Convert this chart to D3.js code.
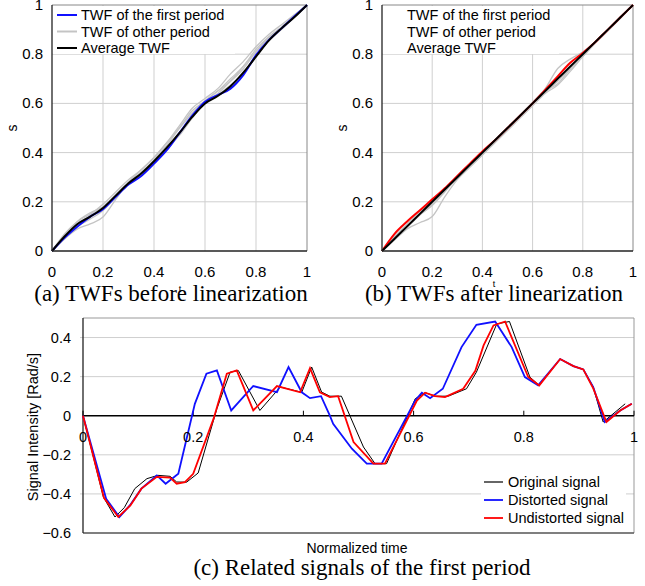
<!DOCTYPE html>
<html>
<head>
<meta charset="utf-8">
<script src="https://cdn.jsdelivr.net/npm/d3@7"></script>
<style>
  body { margin: 0; background: #fff; }
  svg { display: block; }
</style>
</head>
<body>
<svg id="chart" width="645" height="586"></svg>
<script>
// ---- data ----
const twfT = [0, 0.05, 0.1, 0.15, 0.2, 0.25, 0.3, 0.35, 0.4, 0.45, 0.5, 0.55, 0.6, 0.65, 0.7, 0.75, 0.8, 0.85, 0.9, 0.95, 1];

// (a) before linearization
const aFirst = [0, 0.055, 0.1, 0.14, 0.17, 0.22, 0.27, 0.305, 0.355, 0.41, 0.48, 0.55, 0.607, 0.634, 0.66, 0.715, 0.796, 0.857, 0.905, 0.953, 1];
const aAverage = [0, 0.06, 0.11, 0.14, 0.175, 0.225, 0.275, 0.315, 0.365, 0.42, 0.48, 0.545, 0.6, 0.63, 0.67, 0.725, 0.79, 0.855, 0.905, 0.95, 1];
const aOthers = [
  [0, 0.05, 0.09, 0.11, 0.138, 0.21, 0.28, 0.33, 0.38, 0.44, 0.5, 0.56, 0.61, 0.65, 0.69, 0.74, 0.81, 0.87, 0.91, 0.955, 1],
  [0, 0.07, 0.12, 0.15, 0.19, 0.24, 0.29, 0.33, 0.38, 0.44, 0.51, 0.58, 0.62, 0.66, 0.72, 0.77, 0.83, 0.88, 0.92, 0.96, 1],
  [0, 0.06, 0.12, 0.155, 0.18, 0.23, 0.28, 0.32, 0.37, 0.43, 0.5, 0.57, 0.61, 0.65, 0.7, 0.75, 0.82, 0.87, 0.91, 0.955, 1],
  [0, 0.05, 0.1, 0.13, 0.165, 0.22, 0.275, 0.32, 0.36, 0.42, 0.47, 0.54, 0.6, 0.64, 0.69, 0.75, 0.81, 0.865, 0.91, 0.955, 1],
  [0, 0.06, 0.11, 0.145, 0.18, 0.225, 0.27, 0.31, 0.355, 0.41, 0.475, 0.55, 0.605, 0.635, 0.675, 0.72, 0.79, 0.855, 0.9, 0.95, 1]
];

// (b) after linearization
const bFirst = [0, 0.07, 0.12, 0.165, 0.21, 0.255, 0.305, 0.355, 0.405, 0.45, 0.5, 0.55, 0.6, 0.655, 0.71, 0.765, 0.805, 0.85, 0.9, 0.95, 1];
const bAverage = [0, 0.05, 0.1, 0.15, 0.2, 0.25, 0.3, 0.35, 0.4, 0.45, 0.5, 0.55, 0.6, 0.65, 0.7, 0.75, 0.8, 0.85, 0.9, 0.95, 1];
const bOthers = [
  [0, 0.045, 0.09, 0.115, 0.14, 0.22, 0.29, 0.34, 0.39, 0.445, 0.5, 0.55, 0.6, 0.65, 0.68, 0.74, 0.795, 0.85, 0.9, 0.95, 1],
  [0, 0.06, 0.11, 0.16, 0.2, 0.245, 0.295, 0.345, 0.39, 0.44, 0.49, 0.54, 0.59, 0.64, 0.675, 0.73, 0.79, 0.845, 0.895, 0.945, 1],
  [0, 0.055, 0.1, 0.15, 0.19, 0.245, 0.3, 0.35, 0.395, 0.445, 0.5, 0.55, 0.605, 0.66, 0.742, 0.78, 0.81, 0.85, 0.9, 0.95, 1],
  [0, 0.05, 0.095, 0.145, 0.185, 0.24, 0.3, 0.35, 0.4, 0.45, 0.5, 0.545, 0.6, 0.645, 0.69, 0.74, 0.79, 0.845, 0.895, 0.95, 1]
];

const twfTicks = [0, 0.2, 0.4, 0.6, 0.8, 1];
const twfLegend = ["TWF of the first period", "TWF of other period", "Average TWF"];

// (c) signals of the first period
const origT = [0, 0.037, 0.058, 0.075, 0.094, 0.116, 0.136, 0.158, 0.17, 0.188, 0.209, 0.243, 0.267, 0.282, 0.321, 0.358, 0.397, 0.415, 0.433, 0.448, 0.469, 0.509, 0.53, 0.551, 0.603, 0.621, 0.639, 0.663, 0.696, 0.714, 0.751, 0.774, 0.811, 0.828, 0.866, 0.89, 0.908, 0.926, 0.944, 0.958, 0.984];
const origV = [0, -0.416, -0.518, -0.47, -0.373, -0.322, -0.305, -0.31, -0.339, -0.34, -0.293, 0.036, 0.223, 0.231, 0.027, 0.147, 0.12, 0.249, 0.121, 0.1, 0.1, -0.16, -0.245, -0.245, 0.087, 0.118, 0.1, 0.1, 0.138, 0.223, 0.47, 0.482, 0.198, 0.155, 0.29, 0.254, 0.237, 0.147, -0.032, 0.0, 0.061];

const distT = [0, 0.042, 0.066, 0.085, 0.106, 0.134, 0.15, 0.173, 0.203, 0.224, 0.243, 0.269, 0.309, 0.352, 0.373, 0.397, 0.412, 0.432, 0.448, 0.454, 0.488, 0.515, 0.542, 0.603, 0.615, 0.63, 0.653, 0.687, 0.714, 0.748, 0.778, 0.802, 0.826, 0.866, 0.89, 0.908, 0.926, 0.947, 0.975, 0.996];
const distV = [0, -0.425, -0.518, -0.459, -0.373, -0.305, -0.348, -0.297, 0.061, 0.215, 0.232, 0.027, 0.152, 0.121, 0.249, 0.12, 0.09, 0.1, 0.0, -0.041, -0.169, -0.245, -0.245, 0.078, 0.118, 0.09, 0.138, 0.351, 0.465, 0.482, 0.351, 0.198, 0.155, 0.29, 0.254, 0.237, 0.147, -0.032, 0.027, 0.061];

const undT = [0, 0.038, 0.064, 0.086, 0.106, 0.134, 0.158, 0.17, 0.185, 0.2, 0.237, 0.261, 0.279, 0.309, 0.352, 0.394, 0.412, 0.43, 0.448, 0.463, 0.491, 0.527, 0.548, 0.606, 0.621, 0.639, 0.657, 0.69, 0.712, 0.727, 0.745, 0.766, 0.808, 0.828, 0.866, 0.89, 0.908, 0.926, 0.95, 0.975, 0.996];
const undV = [0, -0.42, -0.518, -0.459, -0.373, -0.313, -0.317, -0.348, -0.34, -0.297, -0.015, 0.215, 0.232, 0.027, 0.152, 0.12, 0.244, 0.12, 0.095, 0.1, -0.135, -0.245, -0.245, 0.078, 0.118, 0.1, 0.095, 0.138, 0.23, 0.36, 0.462, 0.482, 0.198, 0.155, 0.29, 0.254, 0.237, 0.14, -0.032, 0.027, 0.061];

const sigXTicks = [0, 0.2, 0.4, 0.6, 0.8, 1];
const sigYTicks = [-0.6, -0.4, -0.2, 0, 0.2, 0.4];
const sigLegend = ["Original signal", "Distorted signal", "Undistorted signal"];

const sans = "'Liberation Sans', Arial, sans-serif";
const serif = "'Liberation Serif', 'Times New Roman', serif";
const svg = d3.select("#chart");

// ---- TWF panel ----
function twfPanel(opt) {
  const x = d3.scaleLinear().domain([0, 1]).range([opt.x0, opt.x1]);
  const y = d3.scaleLinear().domain([0, 1]).range([251, 5]);
  const g = svg.append("g");

  // grid
  g.append("g").selectAll("line").data(twfTicks.slice(1, -1)).join("line")
    .attr("x1", d => x(d)).attr("x2", d => x(d)).attr("y1", y(0)).attr("y2", y(1))
    .attr("stroke", "#cfcfcf").attr("stroke-width", 1);
  g.append("g").selectAll("line").data(twfTicks.slice(1, -1)).join("line")
    .attr("y1", d => y(d)).attr("y2", d => y(d)).attr("x1", x(0)).attr("x2", x(1))
    .attr("stroke", "#cfcfcf").attr("stroke-width", 1);

  // legend background hides grid
  g.append("rect").attr("x", x(0) + 1).attr("y", y(1) + 1)
    .attr("width", opt.legendW).attr("height", 48).attr("fill", "#fff");

  // frame
  g.append("line").attr("x1", x(0)).attr("x2", x(1)).attr("y1", y(1)).attr("y2", y(1)).attr("stroke", "#888");
  g.append("line").attr("x1", x(1)).attr("x2", x(1)).attr("y1", y(0)).attr("y2", y(1)).attr("stroke", "#888");

  const line = d3.line().x((d, i) => x(twfT[i])).y(d => y(d)).curve(d3.curveMonotoneX);

  g.append("g").selectAll("path").data(opt.others).join("path")
    .attr("d", line).attr("fill", "none").attr("stroke", "#c4c4c4").attr("stroke-width", 1.3);
  g.append("path").datum(opt.first).attr("d", line).attr("fill", "none")
    .attr("stroke", opt.firstColor).attr("stroke-width", 2);
  g.append("path").datum(opt.average).attr("d", line).attr("fill", "none")
    .attr("stroke", "#000").attr("stroke-width", 2);

  // axes lines
  g.append("line").attr("x1", x(0)).attr("x2", x(0)).attr("y1", y(0)).attr("y2", y(1)).attr("stroke", "#222").attr("stroke-width", 1.3);
  g.append("line").attr("x1", x(0)).attr("x2", x(1)).attr("y1", y(0)).attr("y2", y(0)).attr("stroke", "#222").attr("stroke-width", 1.3);

  // tick labels
  g.append("g").selectAll("text").data(twfTicks).join("text")
    .attr("x", d => x(d)).attr("y", 277).attr("text-anchor", "middle")
    .attr("font-family", sans).attr("font-size", 15).text(d => d3.format("~g")(d));
  g.append("g").selectAll("text").data(twfTicks).join("text")
    .attr("x", opt.x0 - 9).attr("y", d => y(d) + 5).attr("text-anchor", "end")
    .attr("font-family", sans).attr("font-size", 15).text(d => d3.format("~g")(d));

  // axis titles
  g.append("text").attr("transform", `translate(${opt.x0 - 35},128) rotate(-90)`)
    .attr("text-anchor", "middle").attr("font-family", sans).attr("font-size", 14).text("s");
  g.append("text").attr("x", opt.tX).attr("y", opt.tY).attr("text-anchor", "middle")
    .attr("font-family", sans).attr("font-size", 9).text("t");

  // legend
  const lg = g.append("g");
  const colors = [opt.firstColor, "#c4c4c4", "#000"];
  twfLegend.forEach((txt, i) => {
    const ly = 15 + i * 16.5;
    if (opt.swatch) {
      lg.append("line").attr("x1", x(0) + 5).attr("x2", x(0) + 25).attr("y1", ly).attr("y2", ly)
        .attr("stroke", colors[i]).attr("stroke-width", 2);
    }
    lg.append("text").attr("x", opt.legendX).attr("y", ly + 5)
      .attr("font-family", sans).attr("font-size", 14.5).text(txt);
  });

  // caption
  g.append("text").attr("x", opt.capX).attr("y", 301).attr("text-anchor", "middle")
    .attr("font-family", serif).attr("font-size", 23).text(opt.caption);
}

twfPanel({ x0: 52, x1: 307, others: aOthers, first: aFirst, average: aAverage, firstColor: "#1010ff",
  legendW: 182, legendX: 81, swatch: true, tX: 180, tY: 292, capX: 171, caption: "(a) TWFs before linearization" });
twfPanel({ x0: 382, x1: 633, others: bOthers, first: bFirst, average: bAverage, firstColor: "#ff0000",
  legendW: 176, legendX: 407, swatch: false, tX: 494, tY: 287, capX: 494, caption: "(b) TWFs after linearization" });

// ---- signal panel ----
const sx = d3.scaleLinear().domain([0, 1]).range([83, 634]);
const sy = d3.scaleLinear().domain([-0.6, 0.5]).range([533, 318]);
const sg = svg.append("g");

sg.append("g").selectAll("line").data(sigYTicks.filter(d => d !== 0 && d !== -0.6)).join("line")
  .attr("x1", sx(0) - 3).attr("x2", sx(1)).attr("y1", d => sy(d)).attr("y2", d => sy(d))
  .attr("stroke", "#cfcfcf");
sg.append("line").attr("x1", sx(0)).attr("x2", sx(1)).attr("y1", sy(0.5)).attr("y2", sy(0.5)).attr("stroke", "#999");
sg.append("line").attr("x1", sx(1)).attr("x2", sx(1)).attr("y1", sy(0.5)).attr("y2", sy(-0.6)).attr("stroke", "#999");
sg.append("line").attr("x1", sx(0)).attr("x2", sx(1)).attr("y1", sy(-0.6)).attr("y2", sy(-0.6)).attr("stroke", "#555").attr("stroke-width", 1.3);
sg.append("line").attr("x1", sx(0)).attr("x2", sx(0)).attr("y1", sy(0.5)).attr("y2", sy(-0.6)).attr("stroke", "#222").attr("stroke-width", 1.3);

// zero axis with inward ticks
sg.append("line").attr("x1", sx(0)).attr("x2", sx(1)).attr("y1", sy(0)).attr("y2", sy(0)).attr("stroke", "#000").attr("stroke-width", 1.3);
sg.append("g").selectAll("line").data(sigXTicks).join("line")
  .attr("x1", d => sx(d)).attr("x2", d => sx(d)).attr("y1", sy(0)).attr("y2", sy(0) - 5)
  .attr("stroke", "#000");

// legend box
sg.append("rect").attr("x", 481).attr("y", 472).attr("width", 145).attr("height", 56).attr("fill", "#fff");

const sline = (ts) => d3.line().x((d, i) => sx(ts[i])).y(d => sy(d));
sg.append("path").datum(origV).attr("d", sline(origT)).attr("fill", "none").attr("stroke", "#000").attr("stroke-width", 1);
sg.append("path").datum(distV).attr("d", sline(distT)).attr("fill", "none").attr("stroke", "#1010ff").attr("stroke-width", 1.8);
sg.append("path").datum(undV).attr("d", sline(undT)).attr("fill", "none").attr("stroke", "#ff0000").attr("stroke-width", 1.8);

sg.append("g").selectAll("text").data(sigXTicks).join("text")
  .attr("x", d => sx(d)).attr("y", sy(0) + 26).attr("text-anchor", "middle")
  .attr("font-family", sans).attr("font-size", 14.5).text(d => d3.format("~g")(d));
sg.append("g").selectAll("text").data(sigYTicks).join("text")
  .attr("x", 71).attr("y", d => sy(d) + 5).attr("text-anchor", "end")
  .attr("font-family", sans).attr("font-size", 14.5).text(d => d3.format("~g")(d));

sg.append("text").attr("transform", "translate(38,427) rotate(-90)").attr("text-anchor", "middle")
  .attr("font-family", sans).attr("font-size", 14.5).text("Signal Intensity [Rad/s]");
sg.append("text").attr("x", 357).attr("y", 553).attr("text-anchor", "middle")
  .attr("font-family", sans).attr("font-size", 14).text("Normalized time");

const sigColors = ["#000", "#1010ff", "#ff0000"];
sigLegend.forEach((txt, i) => {
  const ly = 482 + i * 18;
  sg.append("line").attr("x1", 484).attr("x2", 503).attr("y1", ly).attr("y2", ly)
    .attr("stroke", sigColors[i]).attr("stroke-width", i === 0 ? 1.2 : 1.8);
  sg.append("text").attr("x", 508).attr("y", ly + 5).attr("font-family", sans)
    .attr("font-size", 14.5).text(txt);
});

sg.append("text").attr("x", 362).attr("y", 575).attr("text-anchor", "middle")
  .attr("font-family", serif).attr("font-size", 23).text("(c) Related signals of the first period");
</script>
</body>
</html>
